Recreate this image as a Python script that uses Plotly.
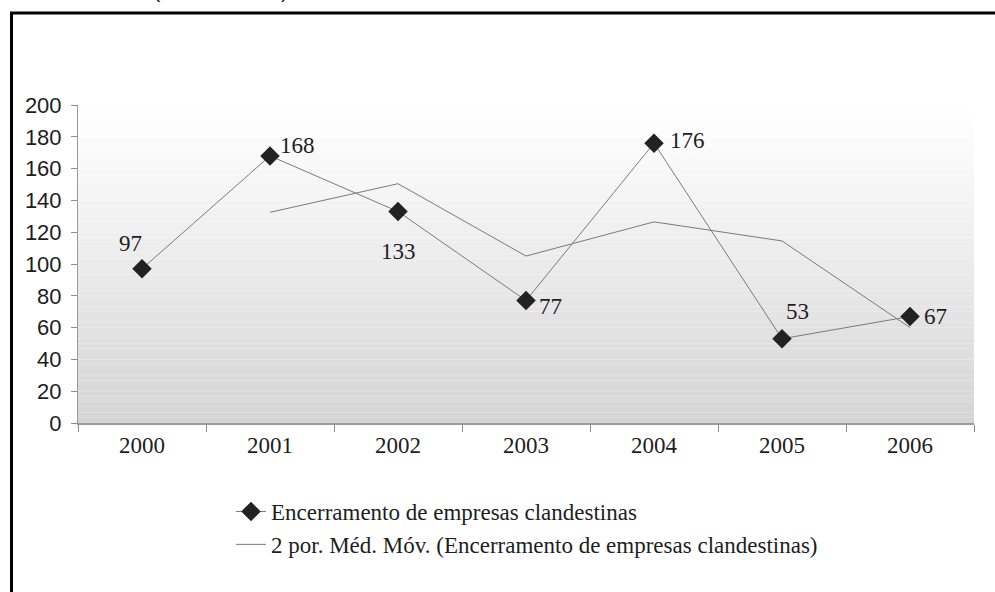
import plotly.graph_objects as go

# ---- data ----
years = ["2000", "2001", "2002", "2003", "2004", "2005", "2006"]
closures = [97, 168, 133, 77, 176, 53, 67]
ma_years = ["2001", "2002", "2003", "2004", "2005", "2006"]
moving_avg = [132.5, 150.5, 105, 126.5, 114.5, 60]
y_tick_vals = [0, 20, 40, 60, 80, 100, 120, 140, 160, 180, 200]

series_name = "Encerramento de empresas clandestinas"
ma_name = "2 por. Méd. Móv. (Encerramento de empresas clandestinas)"

# ---- style ----
SERIF = "Liberation Serif"
SANS = "Liberation Sans"
INK = "#1e1e1e"
LINE = "#7a7a7a"

W, H = 995, 592
ML, MR, MT, MB = 78, 21, 105, 169
plot_w = W - ML - MR
plot_h = H - MT - MB


def px_to_paper_x(px):
    return (px - ML) / plot_w


def px_to_paper_y(py):
    return (H - MB - py) / plot_h


fig = go.Figure()

fig.add_trace(go.Scatter(
    x=years, y=closures, name=series_name,
    mode="lines+markers",
    line=dict(color=LINE, width=1),
    marker=dict(symbol="diamond", size=15, color="#222222"),
))
fig.add_trace(go.Scatter(
    x=ma_years, y=moving_avg, name=ma_name,
    mode="lines",
    line=dict(color=LINE, width=1),
))

# value labels next to each point (pixel offsets)
label_shift = [(-12, 25), (27, 10), (0, -40), (24, -6), (33, 3), (15, 27), (25, 0)]
annotations = []
for i, (v, (dx, dy)) in enumerate(zip(closures, label_shift)):
    annotations.append(dict(
        xref="x", yref="y", x=i, y=v, text=str(v), showarrow=False,
        xshift=dx, yshift=dy,
        font=dict(family=SERIF, size=23, color=INK),
    ))

# cut-off heading fragments at the very top
for px, ch in [(157, "("), (284, ")")]:
    annotations.append(dict(
        xref="paper", yref="paper",
        x=px_to_paper_x(px), y=px_to_paper_y(4),
        xanchor="center", yanchor="bottom", showarrow=False,
        text=ch, font=dict(family=SANS, size=22, color=INK),
    ))

# vertical gradient behind the plot area
shapes = []
steps = 60
for i in range(steps):
    v0 = 200 * i / steps
    v1 = 200 * (i + 1) / steps
    t = 1 - (v0 + v1) / 2 / 200
    g = int(round(255 - 43 * t ** 1.1))
    shapes.append(dict(
        type="rect", xref="paper", yref="y",
        x0=0, x1=1, y0=v0, y1=v1,
        fillcolor=f"rgb({g},{g},{g})", line=dict(width=0),
        layer="below",
    ))

# outer frame (left and top edges visible)
shapes.append(dict(
    type="rect", xref="paper", yref="paper",
    x0=px_to_paper_x(11.5), x1=1.5,
    y0=-2, y1=px_to_paper_y(13),
    line=dict(color="black", width=3), fillcolor="rgba(0,0,0,0)",
    layer="above",
))

fig.update_layout(
    width=W, height=H,
    margin=dict(l=ML, r=MR, t=MT, b=MB),
    paper_bgcolor="white",
    plot_bgcolor="white",
    font=dict(family=SERIF, color=INK),
    showlegend=True,
    legend=dict(
        x=px_to_paper_x(231), y=px_to_paper_y(490),
        xanchor="left", yanchor="top",
        font=dict(family=SERIF, size=23, color=INK),
        bgcolor="rgba(0,0,0,0)",
        tracegroupgap=0,
    ),
    annotations=annotations,
    shapes=shapes,
    xaxis=dict(
        type="category",
        categoryorder="array", categoryarray=years,
        showline=True, linecolor="#9a9a9a", linewidth=2,
        ticks="outside", ticklen=7, tickcolor="#8a8a8a", tickwidth=1,
        tickson="boundaries",
        showgrid=False, zeroline=False,
        tickfont=dict(family=SERIF, size=23, color=INK),
        range=[-0.5, 6.5],
    ),
    yaxis=dict(
        range=[0, 200], tickvals=y_tick_vals,
        showline=True, linecolor="#9a9a9a", linewidth=1,
        ticks="outside", ticklen=6, tickcolor="#8a8a8a",
        ticklabelstandoff=5,
        showgrid=False, zeroline=False,
        tickfont=dict(family=SANS, size=22, color=INK),
    ),
)

fig.write_html("out.html")
